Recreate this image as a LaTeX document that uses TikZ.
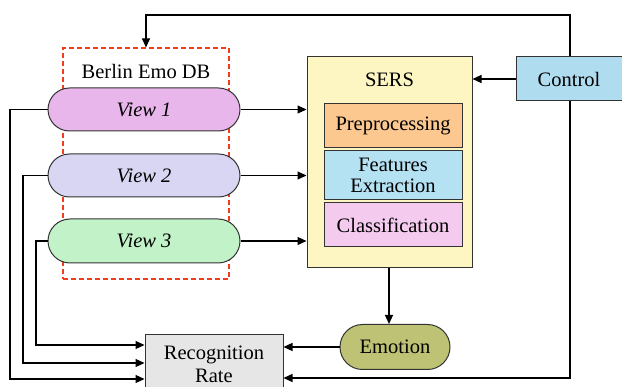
\documentclass[tikz,border=0pt]{standalone}
\usepackage{fontspec}
\setmainfont{Liberation Serif}
\usetikzlibrary{arrows.meta,shapes.misc}
\definecolor{vonefill}{HTML}{E8B6EA}
\definecolor{vtwofill}{HTML}{D8D6F2}
\definecolor{vthreefill}{HTML}{C2F2C8}
\definecolor{sersfill}{HTML}{FDF6C2}
\definecolor{prefill}{HTML}{FCC890}
\definecolor{featfill}{HTML}{B4E2F2}
\definecolor{classfill}{HTML}{F4CAEE}
\definecolor{ctrlfill}{HTML}{B0DCF0}
\definecolor{emofill}{HTML}{BEC274}
\definecolor{rrfill}{HTML}{E6E6E6}
\definecolor{dbred}{HTML}{F23C1E}
\definecolor{edge}{HTML}{333333}
\tikzset{
  txt/.style={font=\fontsize{20.5}{24}\selectfont, align=center, inner sep=0pt},
  pill/.style={txt, rounded rectangle, draw=edge, line width=1pt,
    minimum width=192pt, minimum height=43pt, font=\fontsize{20.5}{24}\selectfont\itshape},
  block/.style={txt, rectangle, draw=edge, line width=1pt},
  arr/.style={line width=1.1pt, -{Triangle[length=9pt,width=8pt]}},
  ln/.style={line width=1.1pt}
}
\begin{document}
\begin{tikzpicture}[x=1pt,y=-1pt]
\useasboundingbox (0,0) rectangle (622,387);
\fill[white] (0,0) rectangle (622,387);

% database frame with its title
\node[draw=dbred, dash pattern=on 5pt off 3pt, line width=1.2pt, minimum width=166pt,
      minimum height=231pt, inner sep=0pt] (db) at (146,163.5) {};
\node[txt] (dbtitle) at (146,71) {Berlin Emo DB};

% the three views
\node[pill, fill=vonefill] (v1) at (144,109.5) {View 1};
\node[pill, fill=vtwofill] (v2) at (144,175.5) {View 2};
\node[pill, fill=vthreefill, minimum height=44pt] (v3) at (144,241) {View 3};

% recognition system and its stages
\node[block, fill=sersfill, minimum width=165pt, minimum height=211pt] (sers) at (389.5,162.5) {};
\node[txt] (serstitle) at (389.5,80) {SERS};
\node[block, fill=prefill, minimum width=138pt, minimum height=44pt] (pre) at (393,126) {Preprocessing};
\node[block, fill=featfill, minimum width=138pt, minimum height=49pt] (feat) at (393,175.5) {Features\\[-3pt]Extraction};
\node[block, fill=classfill, minimum width=138pt, minimum height=44pt] (cls) at (393,225) {Classification};

% control, emotion and recognition rate
\node[block, fill=ctrlfill, minimum width=106pt, minimum height=44pt] (ctrl) at (569,79) {Control};
\node[txt, rounded rectangle, draw=edge, line width=1pt, fill=emofill,
      minimum width=110pt, minimum height=45pt] (emo) at (395,347) {Emotion};
\node[block, fill=rrfill, minimum width=138pt, minimum height=58pt] (rr) at (214,364) {Recognition\\[-1pt]Rate};

% views into the system
\draw[arr] (v1.east) -- (sers.west |- v1.east);
\draw[arr] (v2.east) -- (sers.west |- v2.east);
\draw[arr] (v3.east) -- (sers.west |- v3.east);

% control paths
\draw[arr] (ctrl.west) -- (sers.east |- ctrl.west);
\draw[arr] (ctrl.north -| 570,0) |- (146,15) -- (db.north);
\draw[arr] (ctrl.south -| 570,0) |- (rr.east |- 0,378);

% output path
\draw[arr] (sers.south -| 389,0) -- (emo.north -| 389,0);
\draw[arr] (emo.west) -- (rr.east |- emo.west);

% views into the recognition rate
\draw[arr] (v1.west) -| (10,379) -- (rr.west |- 0,379);
\draw[arr] (v2.west) -| (23,363) -- (rr.west |- 0,363);
\draw[arr] (v3.west) -| (36,345) -- (rr.west |- 0,345);
\end{tikzpicture}
\end{document}
